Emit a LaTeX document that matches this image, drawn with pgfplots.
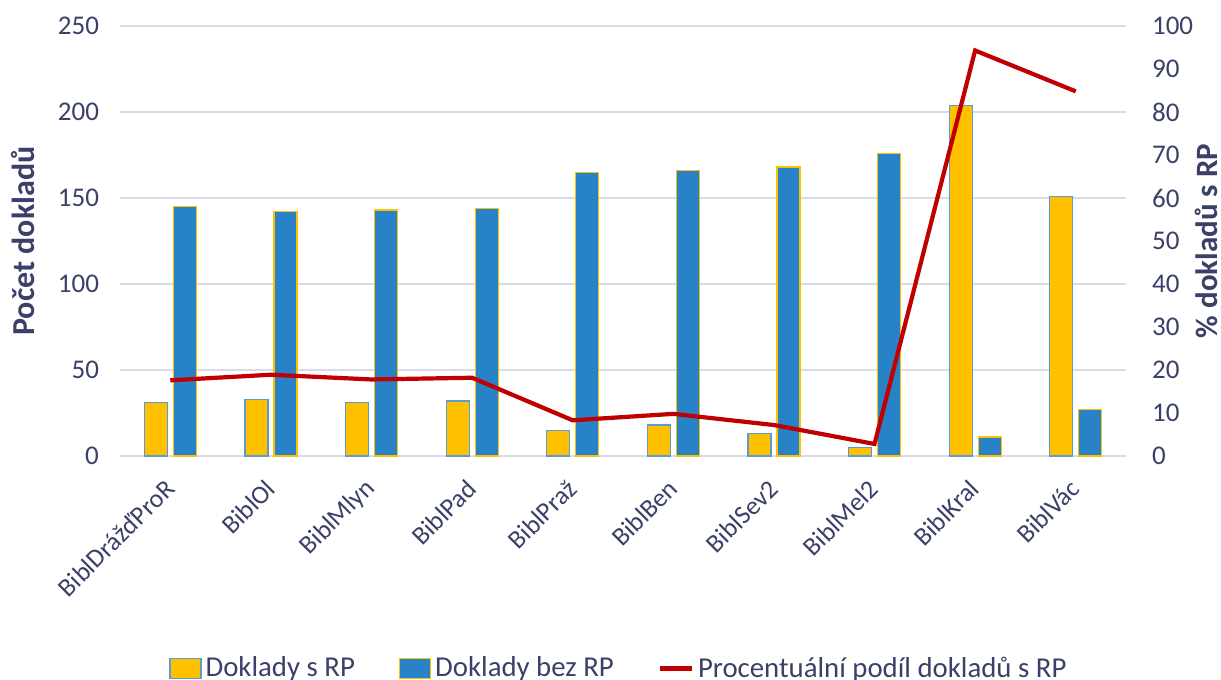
\documentclass[border=0pt]{standalone}
\usepackage{pgfplots}
\pgfplotsset{compat=1.18}
\usepackage{fontspec}
\setmainfont{Carlito}
\definecolor{txt}{HTML}{3A4068}
\definecolor{byel}{HTML}{FFC000}
\definecolor{bblue}{HTML}{2882C8}
\definecolor{lred}{HTML}{C00000}
\definecolor{gridc}{HTML}{D9DBE8}
\definecolor{bordb}{HTML}{5B9BD5}
\begin{document}
\begin{tikzpicture}
\begin{axis}[
 at={(0,0)}, anchor=south west,
 scale only axis, width=503pt, height=215pt,
 xmin=-0.5, xmax=9.5, ymin=0, ymax=250,
 ytick={0,50,...,250},
 xtick={0,...,9},
 xticklabels={BiblDrážďProR,BiblOl,BiblMlyn,BiblPad,BiblPraž,BiblBen,BiblSev2,BiblMel2,BiblKral,BiblVác},
 axis line style={draw=none},
 major tick length=0pt,
 ymajorgrids, grid style={gridc, line width=0.75pt},
 /pgf/number format/assume math mode=true,
 ticklabel style={font=\fontsize{13.5}{15}\selectfont, text=txt},
 yticklabel style={xshift=-7pt},
 xticklabel style={xshift=2.25pt, yshift=-11.75pt, rotate=45, anchor=east, font=\fontsize{13}{15}\selectfont},
 ylabel={\bfseries Počet dokladů},
 ylabel style={at={(axis description cs:-0.0964,0.5)}, anchor=center, font=\fontsize{16}{18}\selectfont, text=txt},
 ybar, bar width=11.5pt,
]
\addplot[fill=byel, draw=bordb, line width=0.6pt, bar shift=-7.25pt] coordinates {
 (0,31) (1,33) (2,31) (3,32) (4,15) (5,18) (6,13) (7,5) (8,204) (9,151)};
\addplot[fill=bblue, draw=byel, line width=0.6pt, bar shift=7.25pt] coordinates {
 (0,145) (1,142) (2,143) (3,144) (4,165) (5,166) (6,168) (7,176) (8,11) (9,27)};
\end{axis}
\begin{axis}[
 at={(0,0)}, anchor=south west,
 scale only axis, width=503pt, height=215pt,
 xmin=-0.5, xmax=9.5, ymin=0, ymax=100,
 ytick={0,10,...,100},
 axis y line*=right, axis x line=none,
 axis line style={draw=none},
 major tick length=0pt,
 /pgf/number format/assume math mode=true,
 ticklabel style={font=\fontsize{13.5}{15}\selectfont, text=txt},
 yticklabel style={xshift=9.5pt},
 ylabel={\bfseries \% dokladů s RP},
 ylabel style={at={(axis description cs:1.0800,0.5)}, anchor=center, inner sep=0pt, font=\fontsize{15.5}{18}\selectfont, text=txt},
 legend style={draw=none, fill=none, legend columns=3, at={(0.497,-0.494)}, anchor=center,
   font=\fontsize{14.4}{16}\selectfont, text=txt,
   /tikz/every even column/.append style={column sep=20pt}},
 legend cell align=left,
]
\addlegendimage{legend image code/.code={\draw[fill=byel, draw=bordb, line width=0.6pt] (0pt,-5pt) rectangle (15.5pt,5pt);}}
\addlegendentry{Doklady s RP}
\addlegendimage{legend image code/.code={\draw[fill=bblue, draw=byel, line width=0.6pt] (0pt,-5pt) rectangle (15.5pt,5pt);}}
\addlegendentry{Doklady bez RP}
\addplot[lred, line width=2.1pt, mark=none, legend image code/.code={\draw[lred, line width=2.1pt] (0pt,0pt) -- (16pt,0pt);}] coordinates {
 (0,17.6) (1,18.9) (2,17.8) (3,18.2) (4,8.3) (5,9.8) (6,7.2) (7,2.8) (8,94.3) (9,84.8)};
\addlegendentry{Procentuální podíl dokladů s RP}
\end{axis}
\pgfresetboundingbox
\useasboundingbox (-60pt,-112pt) rectangle (550.5pt,228pt);
\end{tikzpicture}
\end{document}
